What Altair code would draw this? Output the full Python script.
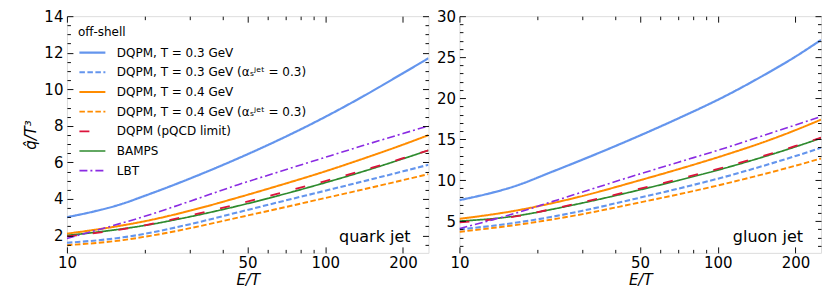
import altair as alt
import pandas as pd

SERIES = [
    "DQPM, T = 0.3 GeV",
    "DQPM, T = 0.3 GeV (αₛʲᵉᵗ = 0.3)",
    "DQPM, T = 0.4 GeV",
    "DQPM, T = 0.4 GeV (αₛʲᵉᵗ = 0.3)",
    "DQPM (pQCD limit)",
    "BAMPS",
    "LBT",
]
DRAW_ORDER = [0, 1, 2, 3, 5, 4, 6]
COLORS = ["#6495ED", "#6495ED", "#FF8C00", "#FF8C00", "#DC143C", "#2E8B2E", "#8A2BE2"]
DASHES = [[1, 0], [5.5, 2.5], [1, 0], [5.5, 2.5], [10, 16], [1, 0], [8, 3, 2, 3]]
WIDTHS = [2.2, 1.6, 2.2, 1.6, 3.2, 1.5, 1.7]

# ---- quark jet panel ----
Q_E = [10, 16.5, 20, 30, 46, 65, 100, 140, 200, 251]
Q_T03 = [3.0, 3.75, 4.17, 5.12, 6.22, 7.18, 8.49, 9.61, 10.88, 11.7]
Q_T03_AS = [1.6, 1.9, 2.09, 2.62, 3.27, 3.8, 4.45, 4.96, 5.51, 5.87]
Q_T04 = [2.1, 2.56, 2.78, 3.36, 4.08, 4.7, 5.51, 6.2, 6.97, 7.49]
Q_T04_AS = [1.47, 1.75, 1.93, 2.4, 2.98, 3.45, 4.05, 4.52, 5.03, 5.36]
Q_PQCD = [1.95, 2.35, 2.56, 3.1, 3.72, 4.28, 4.98, 5.56, 6.23, 6.66]
Q_BAMPS = [2.0, 2.37, 2.55, 3.03, 3.62, 4.16, 4.89, 5.5, 6.2, 6.66]
Q_LBT = [1.84, 2.7, 3.05, 3.88, 4.78, 5.45, 6.28, 6.92, 7.58, 8.0]

# ---- gluon jet panel ----
G_E = [10, 16.7, 23, 30, 47, 70, 107, 150, 200, 251]
G_T03 = [7.56, 9.35, 11.06, 12.51, 15.08, 17.5, 20.26, 22.76, 25.07, 27.1]
G_T03_AS = [3.98, 4.83, 5.55, 6.27, 7.67, 8.95, 10.42, 11.74, 12.94, 13.96]
G_T04 = [5.28, 6.31, 7.21, 8.07, 9.75, 11.31, 13.08, 14.62, 16.1, 17.38]
G_T04_AS = [3.7, 4.55, 5.22, 5.86, 7.11, 8.25, 9.57, 10.72, 11.76, 12.64]
G_PQCD = [4.85, 5.6, 6.5, 7.3, 8.75, 10.1, 11.62, 12.95, 14.17, 15.2]
G_BAMPS = [5.0, 5.65, 6.46, 7.22, 8.62, 9.95, 11.48, 12.83, 14.07, 15.12]
G_LBT = [4.1, 6.02, 7.41, 8.56, 10.5, 12.16, 13.93, 15.44, 16.73, 17.75]

X_MAJOR = [10, 50, 100, 200]
X_MINOR = [20, 30, 40, 60, 70, 80, 90]
Q_Y_MAJOR = [2, 4, 6, 8, 10, 12, 14]
Q_Y_MINOR = [1.5, 2.5, 3, 3.5, 4.5, 5, 5.5, 6.5, 7, 7.5, 8.5, 9, 9.5, 10.5, 11, 11.5, 12.5, 13, 13.5]
G_Y_MAJOR = [5, 10, 15, 20, 25, 30]
G_Y_MINOR = [v for v in range(2, 30) if v % 5 != 0]

W, H = 362, 237
FONT = "DejaVu Sans"


def long_df(E, cols):
    rows = []
    for s, vals in zip(SERIES, cols):
        for e, v in zip(E, vals):
            rows.append({"series": s, "E": e, "q": v})
    return pd.DataFrame(rows)


def panel(df, ydom, ymaj, ymin, label, legend, ytitle):
    xs = alt.Scale(type="log", domain=[10, 251], nice=False)
    ys = alt.Scale(domain=ydom, nice=False, zero=False)
    if legend:
        leg = alt.Legend(
            title="off-shell", orient="top-left", offset=11, padding=0,
            titleFontSize=12, titleFontWeight="normal", titleFont=FONT, titleColor="black",
            titlePadding=5, labelFontSize=12, labelFont=FONT, labelColor="black",
            symbolType="stroke", symbolSize=676, labelOffset=10, clipHeight=17,
            rowPadding=2.7, labelLimit=400,
        )
    else:
        leg = None
    color = alt.Color("series:N", scale=alt.Scale(domain=SERIES, range=COLORS), legend=leg)
    dash = alt.StrokeDash("series:N", scale=alt.Scale(domain=SERIES, range=DASHES), legend=leg)
    sw = alt.StrokeWidth("series:N", scale=alt.Scale(domain=SERIES, range=WIDTHS), legend=leg)

    layers = []
    for i in DRAW_ORDER:
        s = SERIES[i]
        layers.append(
            alt.Chart(df).transform_filter(alt.datum.series == s)
            .mark_line(interpolate="monotone", clip=True)
            .encode(
                x=alt.X("E:Q", scale=xs, axis=None),
                y=alt.Y("q:Q", scale=ys, axis=None),
                color=color, strokeDash=dash, strokeWidth=sw,
            )
        )

    common = dict(domain=False, grid=False, tickColor="#111111", tickWidth=1,
                  labelFont=FONT, labelFontSize=15, labelColor="black",
                  titleFont=FONT, titleFontSize=15, titleColor="black",
                  titleFontWeight="normal", zindex=1)

    def axl(xa, ya):
        return alt.Chart(df).mark_point(opacity=0, size=1, clip=True).encode(
            x=alt.X("E:Q", scale=xs, axis=xa), y=alt.Y("q:Q", scale=ys, axis=ya)
        )

    ymaj_kwargs = dict(orient="left", values=ymaj, tickSize=6, offset=-6, labelPadding=4,
                       labelFlush=False, labelOverlap=False, **common)
    if ytitle:
        ymaj_axis = alt.Axis(title="q\u0302/T³", titleFontStyle="italic", titlePadding=5, **ymaj_kwargs)
    else:
        ymaj_axis = alt.Axis(title=None, **ymaj_kwargs)

    layers.append(axl(
        alt.Axis(orient="bottom", values=X_MAJOR, format="d", tickSize=6, offset=-6,
                 labelPadding=3, labelFlush=False, labelOverlap=False,
                 title="E/T", titleFontStyle="italic", titlePadding=2, **common),
        ymaj_axis,
    ))
    layers.append(axl(
        alt.Axis(orient="bottom", values=X_MINOR, tickSize=3.5, offset=-3.5, labels=False, title=None, **common),
        alt.Axis(orient="left", values=ymin, tickSize=3.5, offset=-3.5, labels=False, title=None, **common),
    ))
    layers.append(axl(
        alt.Axis(orient="top", values=X_MAJOR, tickSize=6, offset=-6, labels=False, title=None, **common),
        alt.Axis(orient="right", values=ymaj, tickSize=6, offset=-6, labels=False, title=None, **common),
    ))
    layers.append(axl(
        alt.Axis(orient="top", values=X_MINOR, tickSize=3.5, offset=-3.5, labels=False, title=None, **common),
        alt.Axis(orient="right", values=ymin, tickSize=3.5, offset=-3.5, labels=False, title=None, **common),
    ))
    layers.append(
        alt.Chart(pd.DataFrame({"t": [label]})).mark_text(
            align="right", baseline="alphabetic", fontSize=16, font=FONT, color="black"
        ).encode(text="t:N", x=alt.value(W - 18), y=alt.value(H - 11))
    )
    return alt.layer(*layers).resolve_axis(x="independent", y="independent").properties(width=W, height=H)


qdf = long_df(Q_E, [Q_T03, Q_T03_AS, Q_T04, Q_T04_AS, Q_PQCD, Q_BAMPS, Q_LBT])
gdf = long_df(G_E, [G_T03, G_T03_AS, G_T04, G_T04_AS, G_PQCD, G_BAMPS, G_LBT])

left = panel(qdf, [1.05, 14], Q_Y_MAJOR, Q_Y_MINOR, "quark jet", True, True)
right = panel(gdf, [1.13, 30], G_Y_MAJOR, G_Y_MINOR, "gluon jet", False, False)

chart = (
    alt.hconcat(left, right, spacing=6)
    .resolve_scale(color="independent", strokeDash="independent", strokeWidth="independent")
    .properties(padding={"left": 15, "top": 0, "right": 0, "bottom": 0})
    .configure_view(stroke="black", strokeWidth=1)
    .configure(background="white")
)

chart.save("out.html", embed_options={"renderer": "svg", "actions": False})
